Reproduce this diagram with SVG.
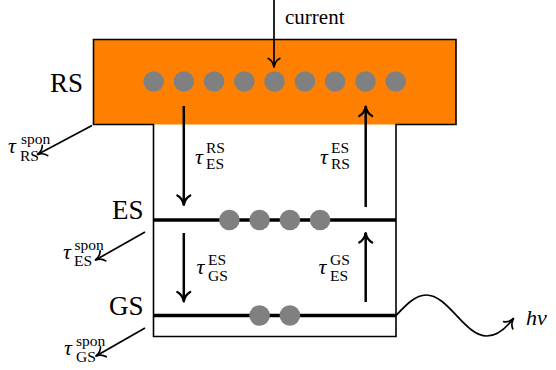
<svg xmlns="http://www.w3.org/2000/svg" width="556" height="370" viewBox="0 0 556 370">
<style>
.lab{font-family:"Liberation Serif","Times New Roman","DejaVu Serif",serif;font-size:27px;fill:#000}
.tau{font-family:"Liberation Serif","Times New Roman","DejaVu Serif",serif;font-style:italic;font-size:22px;fill:#000}
.scr{font-family:"Liberation Serif","Times New Roman","DejaVu Serif",serif;font-size:15.5px;fill:#000}
.txt{font-family:"Liberation Serif","Times New Roman","DejaVu Serif",serif;font-size:21px;fill:#000}
.dot{fill:#808080}
.lvl{stroke:#000;stroke-width:3.3;fill:none}
.thin{stroke:#000;stroke-width:1.7;fill:none;marker-end:url(#aThin)}
.thick{stroke:#000;stroke-width:2.5;fill:none;marker-end:url(#aThick)}
</style>
<defs>
<marker id="aThick" markerUnits="userSpaceOnUse" viewBox="-12 -9 15 18" refX="0" refY="0" markerWidth="15" markerHeight="18" orient="auto">
<path d="M-9.5,-6.5 C-7.5,-2.7 -3.2,-0.6 0,0 C-3.2,0.6 -7.5,2.7 -9.5,6.5" fill="none" stroke="#000" stroke-width="2.2" stroke-linecap="round" stroke-linejoin="round"/>
</marker>
<marker id="aThin" markerUnits="userSpaceOnUse" viewBox="-11 -8 13 16" refX="0" refY="0" markerWidth="13" markerHeight="16" orient="auto">
<path d="M-8.5,-5.8 C-6.8,-2.4 -2.8,-0.5 0,0 C-2.8,0.5 -6.8,2.4 -8.5,5.8" fill="none" stroke="#000" stroke-width="1.7" stroke-linecap="round" stroke-linejoin="round"/>
</marker>
</defs>

<g id="RS">
<rect x="93.5" y="39.5" width="362.5" height="85" fill="#FF8000"/>
<circle class="dot" cx="153.7" cy="81.5" r="10.3"/>
<circle class="dot" cx="183.9" cy="81.5" r="10.3"/>
<circle class="dot" cx="214.1" cy="81.5" r="10.3"/>
<circle class="dot" cx="244.3" cy="81.5" r="10.3"/>
<circle class="dot" cx="274.5" cy="81.5" r="10.3"/>
<circle class="dot" cx="304.9" cy="81.5" r="10.3"/>
<circle class="dot" cx="335.1" cy="81.5" r="10.3"/>
<circle class="dot" cx="365.5" cy="81.5" r="10.3"/>
<circle class="dot" cx="395.7" cy="81.5" r="10.3"/>
<text class="lab" x="83" y="91.5" text-anchor="end">RS</text>
</g>

<g id="well">
<path d="M153.5,124.5 L93.5,124.5 L93.5,39.5 L456,39.5 L456,124.5 L396,124.5 L396,336.5 L153.5,336.5 Z" fill="none" stroke="#000" stroke-width="1.6" stroke-linejoin="miter"/>
</g>

<g id="ES">
<line class="lvl" x1="153.5" y1="220" x2="396" y2="220"/>
<circle class="dot" cx="229.4" cy="220" r="10.3"/>
<circle class="dot" cx="259.6" cy="220" r="10.3"/>
<circle class="dot" cx="289.9" cy="220" r="10.3"/>
<circle class="dot" cx="320.1" cy="220" r="10.3"/>
<text class="lab" x="143.5" y="219" text-anchor="end">ES</text>
</g>

<g id="GS">
<line class="lvl" x1="153.5" y1="315.5" x2="396" y2="315.5"/>
<circle class="dot" cx="259.6" cy="315.5" r="10.3"/>
<circle class="dot" cx="289.9" cy="315.5" r="10.3"/>
<text class="lab" x="143.5" y="315" text-anchor="end">GS</text>
</g>

<g id="connectors">
<line class="thin" x1="274" y1="0" x2="274" y2="67"/>
<line class="thick" x1="183.8" y1="106" x2="183.8" y2="205"/>
<line class="thick" x1="183.8" y1="233" x2="183.8" y2="301.5"/>
<line class="thick" x1="365.7" y1="207" x2="365.7" y2="106.5"/>
<line class="thick" x1="365.7" y1="302" x2="365.7" y2="233"/>
<line class="thin" x1="92" y1="125.5" x2="37.5" y2="154.5"/>
<line class="thin" x1="145" y1="232" x2="95.5" y2="260"/>
<line class="thin" x1="145" y1="328" x2="96" y2="356"/>
<path class="thin" d="M396,315.5 C405.9,305 415.3,295 426.25,295 C437.2,295 446.6,305 456.5,315.5 C466.4,326 475.8,336 486.75,336 C497.7,336 506,328 513.5,318.5"/>
</g>

<g id="labels">
<text class="txt" x="285" y="24">current</text>

<text class="tau" x="195" y="164">τ</text>
<text class="scr" x="206" y="153">RS</text>
<text class="scr" x="206" y="169">ES</text>

<text class="tau" x="320" y="164">τ</text>
<text class="scr" x="331" y="153">ES</text>
<text class="scr" x="331" y="169">RS</text>

<text class="tau" x="196.5" y="274">τ</text>
<text class="scr" x="208" y="265">ES</text>
<text class="scr" x="208" y="281">GS</text>

<text class="tau" x="318.5" y="274">τ</text>
<text class="scr" x="330" y="265">GS</text>
<text class="scr" x="330" y="281">ES</text>

<text class="tau" x="8" y="153">τ</text>
<text class="scr" x="21" y="144">spon</text>
<text class="scr" x="20" y="161">RS</text>

<text class="tau" x="63" y="259">τ</text>
<text class="scr" x="74.5" y="250">spon</text>
<text class="scr" x="74" y="266">ES</text>

<text class="tau" x="64" y="355">τ</text>
<text class="scr" x="76" y="346">spon</text>
<text class="scr" x="76" y="362">GS</text>

<text class="tau" x="526" y="325" font-size="28">hν</text>
</g>
</svg>
